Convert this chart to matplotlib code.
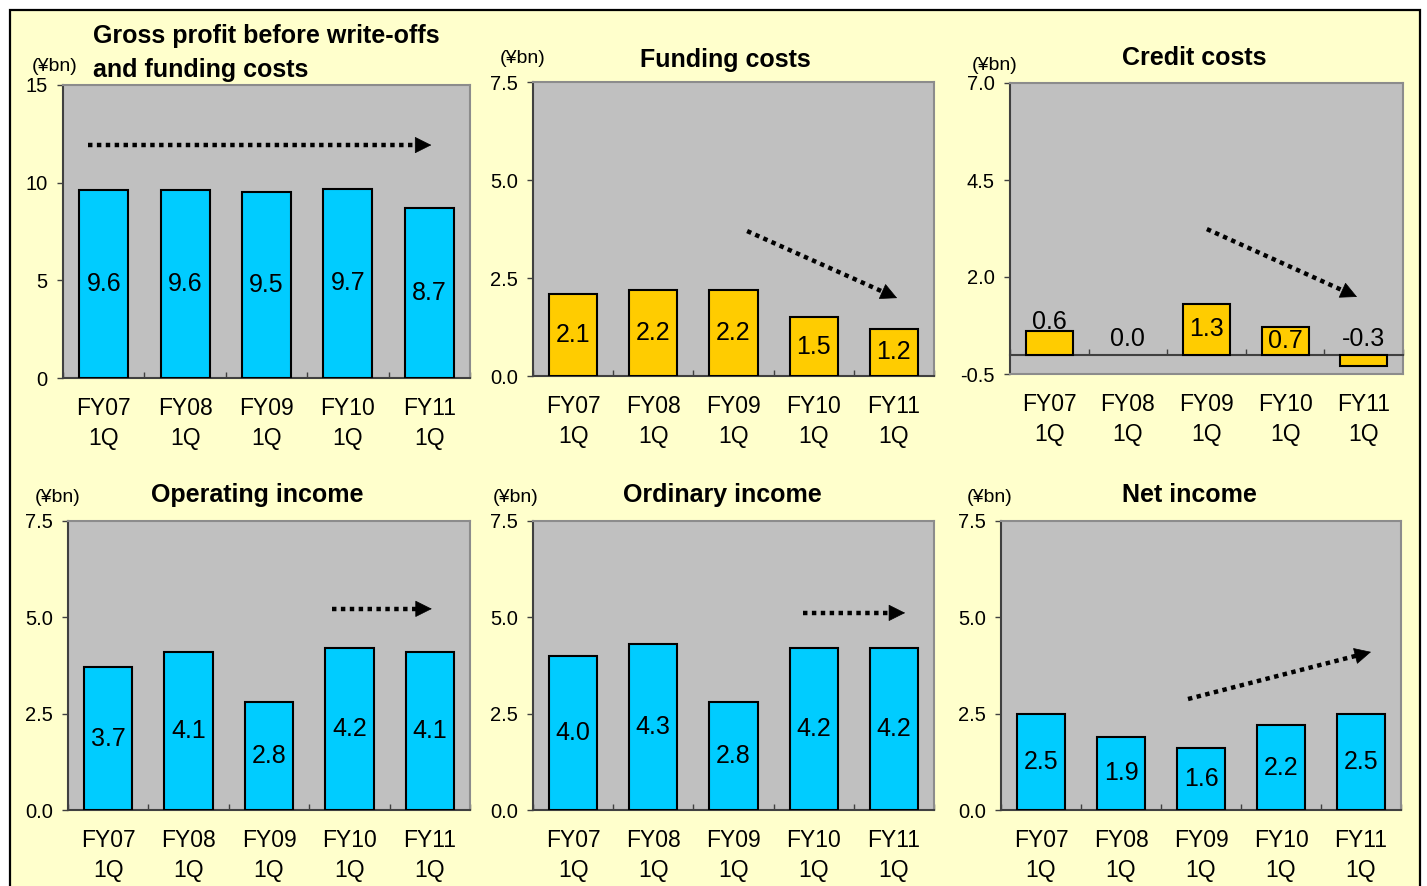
import matplotlib
matplotlib.use('Agg')
import matplotlib.pyplot as plt
from matplotlib.patches import Rectangle

W, H = 1427, 886

categories = ['FY07\n1Q', 'FY08\n1Q', 'FY09\n1Q', 'FY10\n1Q', 'FY11\n1Q']
gross_profit = [9.6, 9.6, 9.5, 9.7, 8.7]
funding_costs = [2.1, 2.2, 2.2, 1.5, 1.2]
credit_costs = [0.6, 0.0, 1.3, 0.7, -0.3]
operating_income = [3.7, 4.1, 2.8, 4.2, 4.1]
ordinary_income = [4.0, 4.3, 2.8, 4.2, 4.2]
net_income = [2.5, 1.9, 1.6, 2.2, 2.5]

CYAN = '#00CCFF'
GOLD = '#FFCC00'
PLOT_BG = '#C0C0C0'
PAGE_BG = '#FFFFCC'

plt.rcParams['font.family'] = ['Liberation Sans', 'DejaVu Sans']

fig = plt.figure(figsize=(W / 100, H / 100), dpi=100, facecolor='white')
fig.patches.append(Rectangle((10 / W, -0.05), 1410 / W, 1 - 10 / H + 0.05,
                             transform=fig.transFigure, facecolor=PAGE_BG,
                             edgecolor='black', lw=1.6, zorder=0))


def ftext(x, y, s, **kw):
    # place text by pixel position (origin top-left)
    fig.text(x / W, 1 - y / H, s, **kw)


def trend_arrow(ax, w_px, h_px, start, end, head_px=15):
    # dotted shaft + solid triangular head, given in axes fractions
    dx = (end[0] - start[0]) * w_px
    dy = (end[1] - start[1]) * h_px
    d = (dx ** 2 + dy ** 2) ** 0.5
    bx = end[0] - dx / d * head_px / w_px
    by = end[1] - dy / d * head_px / h_px
    ax.plot([start[0], bx], [start[1], by], transform=ax.transAxes, color='black',
            lw=3.2, ls=(0, (1, 1)), solid_capstyle='butt', dash_capstyle='butt',
            zorder=6)
    ax.annotate('', xy=end, xytext=(bx, by), xycoords='axes fraction',
                arrowprops=dict(arrowstyle='-|>,head_length=1.1,head_width=0.55',
                                color='black', lw=0.5, shrinkA=0, shrinkB=0,
                                mutation_scale=10),
                zorder=6)


def panel(box, values, color, ylim, yticks, fmt, arrow, label_modes=None):
    left, top, right, bottom = box
    w_px, h_px = right - left, bottom - top
    ax = fig.add_axes([left / W, 1 - bottom / H, w_px / W, h_px / H])
    ax.set_facecolor(PLOT_BG)
    ax.set_zorder(1)

    for s in ax.spines.values():
        s.set_color('#8c8c8c')
        s.set_linewidth(1.5)
    ax.spines['left'].set_color('#404040')
    ax.spines['bottom'].set_color('#404040')
    shift = 0
    if ylim[0] < 0:
        # category axis crosses at zero; frame bottom stays grey
        ax.spines['bottom'].set_position(('data', 0))
        ax.plot([0, 1], [0, 0], transform=ax.transAxes, color='#8c8c8c', lw=1.5,
                clip_on=False, zorder=5)
        shift = (0 - ylim[0]) / (ylim[1] - ylim[0]) * h_px * 0.72

    x = range(len(values))
    ax.bar(x, values, width=0.6, color=color, edgecolor='black',
           linewidth=[1.5 if v != 0 else 0 for v in values], zorder=3)
    ax.set_xlim(-0.5, len(values) - 0.5)
    ax.set_ylim(*ylim)

    ax.set_yticks(yticks)
    ax.set_yticklabels([fmt % t for t in yticks], fontsize=14.5)
    ax.tick_params(axis='y', direction='out', length=4, width=1, color='#404040', pad=7)

    ax.set_xticks(list(x))
    ax.set_xticklabels(categories, fontsize=16.5, linespacing=1.4)
    ax.set_xticks([i - 0.5 for i in range(len(values) + 1)], minor=True)
    ax.tick_params(axis='x', which='major', length=0, pad=13.5 + shift)
    ax.tick_params(axis='x', which='minor', direction='in', length=4, width=1,
                   color='#404040')

    if label_modes is None:
        label_modes = ['mid'] * len(values)
    for i, (v, mode) in enumerate(zip(values, label_modes)):
        txt = '%.1f' % v
        if mode == 'mid':
            ax.text(i, v / 2, txt, ha='center', va='center', fontsize=18, zorder=4)
        elif mode == 'top':
            ax.annotate(txt, (i, v), xytext=(0, 1.5), textcoords='offset points',
                        ha='center', va='baseline', fontsize=18, zorder=4)
        else:
            ax.annotate(txt, (i, 0), xytext=(0, 6), textcoords='offset points',
                        ha='center', va='baseline', fontsize=18, zorder=4)

    trend_arrow(ax, w_px, h_px, *arrow)
    return ax


title_kw = dict(fontsize=18, fontweight='bold', va='baseline')
unit_kw = dict(fontsize=14, ha='left', va='baseline')

# top row
panel((63, 85, 470, 378), gross_profit, CYAN, (0, 15), [0, 5, 10, 15], '%d',
      ((0.061, 0.795), (0.905, 0.795)))
ftext(93, 43, 'Gross profit before write-offs', ha='left', **title_kw)
ftext(93, 77, 'and funding costs', ha='left', **title_kw)
ftext(32, 71, '(¥bn)', **unit_kw)

panel((533, 82, 934, 376), funding_costs, GOLD, (0, 7.5), [0, 2.5, 5.0, 7.5], '%.1f',
      ((0.534, 0.493), (0.908, 0.265)))
ftext(725, 67, 'Funding costs', ha='center', **title_kw)
ftext(500, 63, '(¥bn)', **unit_kw)

panel((1010, 83, 1403, 374), credit_costs, GOLD, (-0.5, 7.0), [-0.5, 2.0, 4.5, 7.0], '%.1f',
      ((0.501, 0.498), (0.883, 0.265)),
      label_modes=['top', 'base', 'mid', 'mid', 'base'])
ftext(1194, 65, 'Credit costs', ha='center', **title_kw)
ftext(972, 70, '(¥bn)', **unit_kw)

# bottom row
panel((68, 521, 470, 810), operating_income, CYAN, (0, 7.5), [0, 2.5, 5.0, 7.5], '%.1f',
      ((0.657, 0.696), (0.905, 0.696)))
ftext(257, 502, 'Operating income', ha='center', **title_kw)
ftext(35, 502, '(¥bn)', **unit_kw)

panel((533, 521, 934, 810), ordinary_income, CYAN, (0, 7.5), [0, 2.5, 5.0, 7.5], '%.1f',
      ((0.673, 0.682), (0.928, 0.682)))
ftext(722, 502, 'Ordinary income', ha='center', **title_kw)
ftext(493, 502, '(¥bn)', **unit_kw)

panel((1001, 521, 1401, 810), net_income, CYAN, (0, 7.5), [0, 2.5, 5.0, 7.5], '%.1f',
      ((0.4675, 0.384), (0.925, 0.547)))
ftext(1189, 502, 'Net income', ha='center', **title_kw)
ftext(967, 502, '(¥bn)', **unit_kw)

fig.savefig('out.png', dpi=100, facecolor=fig.get_facecolor())
